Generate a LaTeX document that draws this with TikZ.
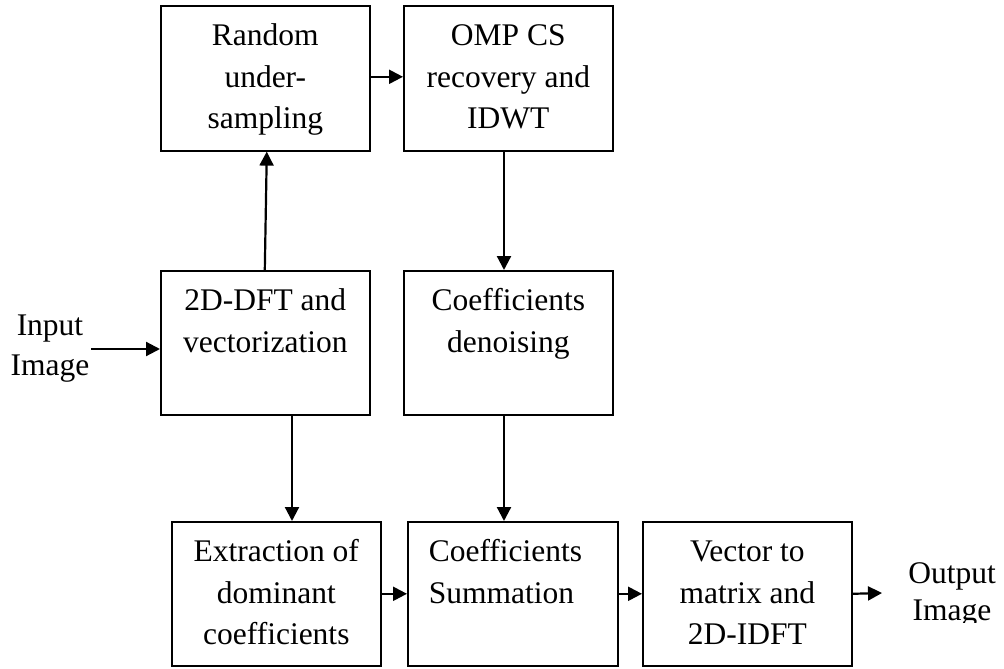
\documentclass[tikz,border=0pt]{standalone}
\usepackage{fontspec}
\setmainfont{Liberation Serif}
\usetikzlibrary{arrows.meta}

\begin{document}
\begin{tikzpicture}[x=1pt,y=-1pt,
  every node/.style={font=\fontsize{31.5}{41.5}\selectfont},
  block/.style={draw, line width=1.6pt, anchor=north west,
    inner xsep=0pt, inner ysep=0pt, text width=209pt,
    text height=40pt, align=flush center},
  tallblock/.style={block, text depth=105pt},
  lowblock/.style={block, text depth=104pt},
  flow/.style={line width=2.2pt, -{Triangle[length=14pt,width=14pt]}},
  terminal/.style={align=flush center, inner sep=0pt, anchor=base}
]
\useasboundingbox (0,0) rectangle (1004,669);

% top row
\node[tallblock] (R) at (160,5)   {Random\\under-\\sampling};
\node[tallblock] (O) at (403,5)   {OMP CS\\recovery and\\IDWT};

% middle row
\node[lowblock]  (D) at (160,270) {2D-DFT and\\vectorization};
\node[lowblock]  (N) at (403,270) {Coefficients\\denoising};

% bottom row
\node[lowblock]  (E) at (171,521) {Extraction of\\dominant\\coefficients};
\node[lowblock, inner xsep=21pt, text width=168pt, align=flush left]
                 (S) at (407,521) {Coefficients\\Summation};
\node[lowblock]  (V) at (642,521) {Vector to\\matrix and\\2D-IDFT};

% input and output labels (anchored on the baseline of their last line)
\node[terminal, font=\fontsize{31.5}{40}\selectfont] (in) at (50,375) {Input\\Image};
\begin{scope}
  \clip (885,540) rectangle (1004,622);
  \node[terminal, font=\fontsize{31.5}{37}\selectfont] (out) at (952,620) {Output\\Image};
\end{scope}

% connectors
\coordinate (inStart) at (91,349);
\coordinate (leftDrop) at (292,0);
\coordinate (rightDrop) at (504,0);
\coordinate (outEnd) at (882,593);

\draw[flow] (inStart) -- (inStart -| D.west);
\draw[flow] ([xshift=-0.5pt]D.north) -- ([xshift=1.5pt]R.south);
\draw[flow] ([yshift=1.5pt]R.east) -- ([yshift=1.5pt]O.west);
\draw[flow] (O.south -| rightDrop) -- (N.north -| rightDrop);
\draw[flow] (D.south -| leftDrop) -- (E.north -| leftDrop);
\draw[flow] (N.south -| rightDrop) -- (S.north -| rightDrop);
\draw[flow] (E.east) -- (S.west);
\draw[flow] (S.east) -- (V.west);
\draw[flow] (V.east) -- (outEnd);
\end{tikzpicture}
\end{document}
